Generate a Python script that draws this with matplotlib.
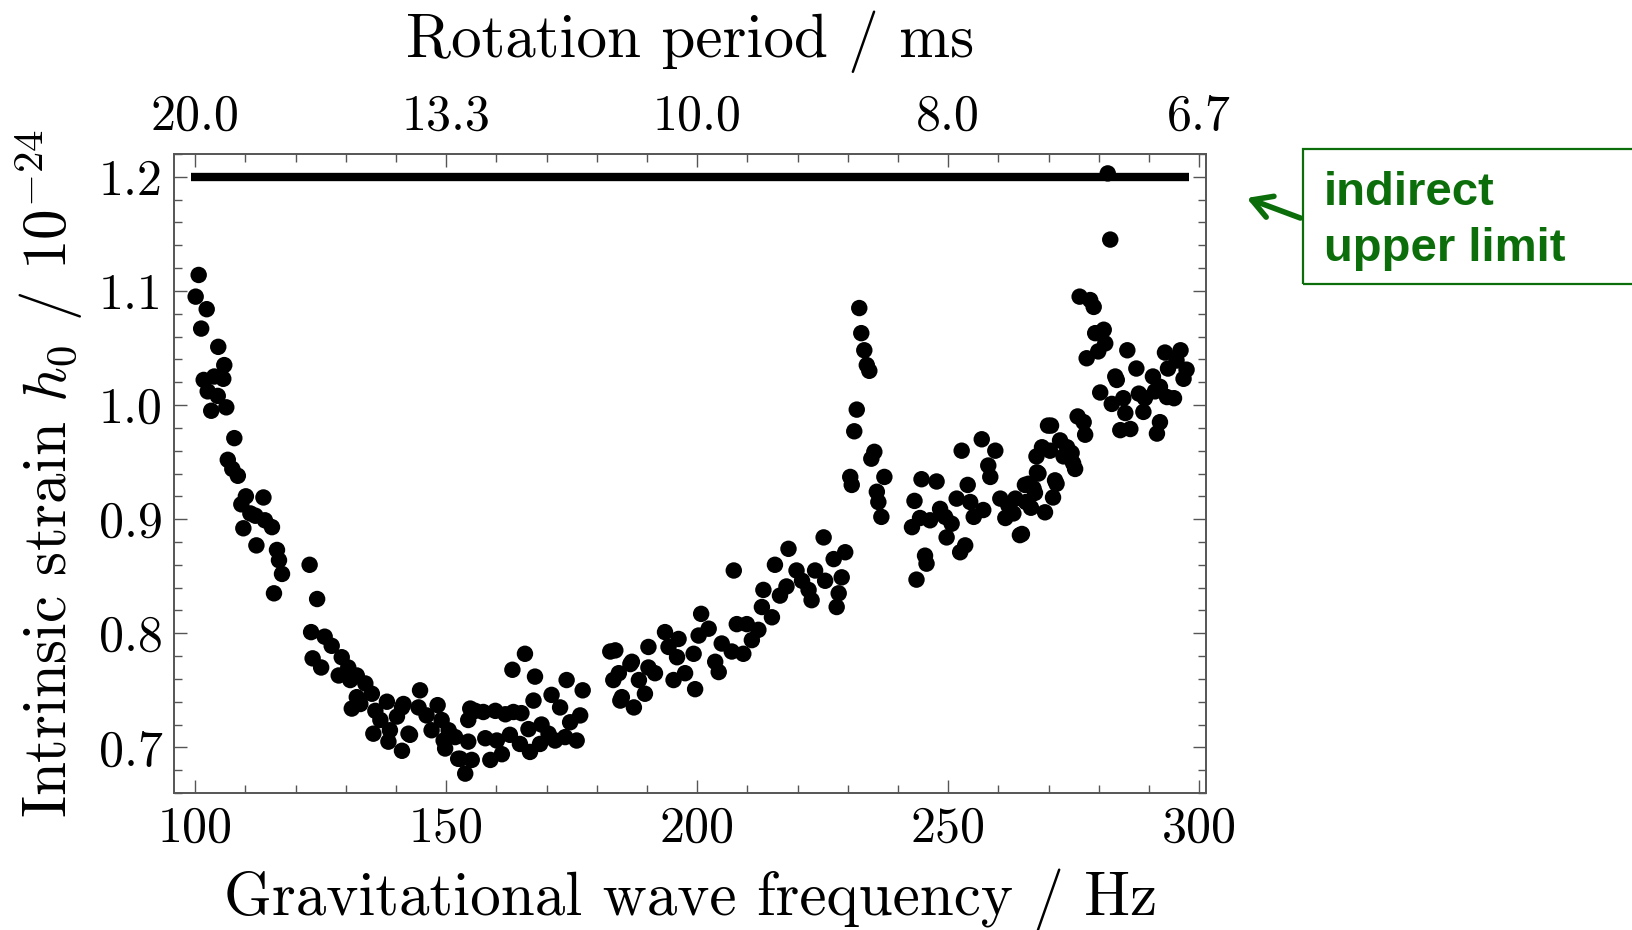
import matplotlib
matplotlib.use("Agg")
import matplotlib.pyplot as plt
from matplotlib.patches import Rectangle, FancyArrowPatch
from matplotlib.ticker import MultipleLocator

plt.rcParams['font.family'] = 'cmr10'
plt.rcParams['mathtext.fontset'] = 'cm'
plt.rcParams['axes.unicode_minus'] = False

# upper limit values per frequency bin
freq = [100.1, 100.7, 101.2, 101.7, 102.3, 102.5, 103.2, 103.8, 104.5, 104.6,
        105.6, 105.8, 106.2, 106.5, 107.4, 107.8, 108.5, 109.2, 109.6, 110.1,
        111.0, 112.0, 112.2, 113.6, 113.9, 115.3, 115.7, 116.3, 116.7, 117.3,
        122.8, 123.1, 123.4, 124.3, 125.1, 125.8, 127.2, 128.6, 129.2, 130.5,
        130.9, 131.2, 132.2, 132.2, 132.9, 133.9, 135.2, 135.5, 135.9, 136.9,
        138.2, 138.5, 138.8, 140.2, 141.2, 141.2, 141.5, 142.5, 142.8, 144.5,
        144.8, 146.1, 147.1, 148.3, 149.1, 149.5, 149.8, 150.5, 151.8, 152.4,
        152.8, 153.8, 154.4, 154.4, 154.8, 155.1, 155.8, 157.4, 157.8, 158.8,
        159.8, 160.1, 161.1, 161.8, 162.7, 163.2, 163.4, 164.7, 165.0, 165.7,
        166.4, 166.7, 167.4, 167.7, 168.7, 169.0, 170.4, 171.0, 171.7, 172.7,
        173.7, 174.0, 174.7, 176.0, 176.7, 177.2,
        182.7, 183.3, 183.7, 184.4, 184.7, 185.0, 186.7, 187.0, 187.4, 188.4,
        189.6, 190.3, 190.3, 191.6, 193.6, 194.3, 195.3, 196.0, 196.3, 197.6,
        199.3, 199.6, 200.3, 200.8, 202.3, 203.6, 204.3, 204.9, 206.9, 207.3,
        207.9, 209.2, 209.9, 210.9, 212.2, 212.9, 213.2, 214.9, 215.5, 216.5,
        217.8, 218.2, 219.8, 220.9, 222.2, 222.8, 223.5, 225.2, 225.5, 227.2,
        227.8, 228.2, 228.8, 229.5, 230.5, 230.8, 231.3, 231.8, 232.3, 232.7,
        233.3, 233.8, 234.3, 234.7, 235.3, 235.8, 236.1, 236.7, 237.3,
        242.8, 243.3, 243.7, 244.4, 244.7, 245.4, 245.7, 246.4, 247.7, 248.4,
        249.4, 249.7, 250.7, 251.7, 252.4, 252.7, 253.4, 253.9, 254.4, 255.1,
        256.7, 257.0, 258.0, 258.4, 259.4, 260.4, 261.4, 262.0, 263.0, 263.4,
        264.3, 264.7, 265.3, 265.5, 266.0, 266.5, 267.0, 267.3, 267.6, 267.7,
        268.0, 268.7, 269.3, 269.9, 270.3, 270.5, 270.9, 271.3, 271.6, 272.3,
        273.0, 273.7, 274.6, 274.9, 275.3, 275.8, 276.2, 277.0, 277.3, 277.6,
        278.3, 279.0, 279.3, 279.9, 280.3, 281.0, 281.3, 281.8, 282.3, 282.6,
        283.3, 283.6, 284.3, 284.9, 285.3, 285.7, 286.3, 287.5, 288.0, 288.9,
        289.2, 290.8, 291.2, 291.6, 292.2, 292.2, 293.2, 293.6, 293.8, 295.0,
        295.5, 296.3, 296.9, 297.5]
h0 = [1.095, 1.114, 1.067, 1.022, 1.084, 1.012, 0.995, 1.025, 1.008, 1.051,
      1.023, 1.035, 0.998, 0.952, 0.944, 0.971, 0.938, 0.913, 0.892, 0.920,
      0.905, 0.903, 0.877, 0.919, 0.899, 0.893, 0.835, 0.873, 0.864, 0.852,
      0.860, 0.801, 0.778, 0.830, 0.770, 0.797, 0.789, 0.763, 0.779, 0.770,
      0.759, 0.734, 0.763, 0.744, 0.738, 0.756, 0.747, 0.712, 0.732, 0.724,
      0.740, 0.705, 0.715, 0.727, 0.735, 0.697, 0.738, 0.712, 0.711, 0.735,
      0.750, 0.728, 0.715, 0.737, 0.724, 0.706, 0.699, 0.715, 0.709, 0.690,
      0.690, 0.677, 0.705, 0.724, 0.734, 0.689, 0.732, 0.731, 0.708, 0.689,
      0.732, 0.706, 0.694, 0.729, 0.711, 0.768, 0.731, 0.703, 0.730, 0.782,
      0.716, 0.696, 0.741, 0.762, 0.703, 0.720, 0.712, 0.746, 0.706, 0.735,
      0.709, 0.759, 0.722, 0.706, 0.728, 0.750,
      0.784, 0.759, 0.785, 0.765, 0.741, 0.744, 0.773, 0.775, 0.735, 0.759,
      0.747, 0.788, 0.770, 0.765, 0.801, 0.788, 0.759, 0.779, 0.795, 0.765,
      0.782, 0.751, 0.798, 0.817, 0.804, 0.775, 0.766, 0.791, 0.784, 0.855,
      0.808, 0.782, 0.808, 0.794, 0.803, 0.823, 0.838, 0.814, 0.860, 0.833,
      0.841, 0.874, 0.855, 0.846, 0.838, 0.829, 0.855, 0.884, 0.846, 0.865,
      0.823, 0.835, 0.849, 0.871, 0.937, 0.930, 0.977, 0.996, 1.085, 1.063,
      1.048, 1.035, 1.030, 0.953, 0.959, 0.924, 0.915, 0.902, 0.937,
      0.893, 0.916, 0.847, 0.901, 0.935, 0.868, 0.861, 0.899, 0.933, 0.909,
      0.902, 0.884, 0.896, 0.918, 0.871, 0.960, 0.877, 0.930, 0.915, 0.902,
      0.970, 0.908, 0.947, 0.937, 0.960, 0.918, 0.901, 0.912, 0.905, 0.918,
      0.886, 0.887, 0.930, 0.915, 0.931, 0.910, 0.927, 0.923, 0.955, 0.941,
      0.940, 0.963, 0.906, 0.982, 0.960, 0.982, 0.919, 0.934, 0.931, 0.969,
      0.955, 0.963, 0.958, 0.949, 0.944, 0.990, 1.095, 0.985, 0.974, 1.041,
      1.092, 1.086, 1.063, 1.047, 1.011, 1.066, 1.054, 1.203, 1.145, 1.001,
      1.025, 1.022, 0.978, 1.006, 0.993, 1.048, 0.979, 1.032, 1.010, 0.994,
      1.006, 1.025, 1.012, 0.975, 1.016, 0.985, 1.046, 1.007, 1.032, 1.006,
      1.039, 1.048, 1.023, 1.031]

# indirect (spin-down) upper limit
limit_h0 = 1.2
limit_f = [99.2, 298.0]

xticks = [100, 150, 200, 250, 300]
yticks = [0.7, 0.8, 0.9, 1.0, 1.1, 1.2]
ytick_labels = ['0.7', '0.8', '0.9', '1.0', '1.1', '1.2']
period_labels = ['20.0', '13.3', '10.0', '8.0', '6.7']

frame_col = '#555555'
green = '#0b6e0b'

fig = plt.figure(figsize=(16.33, 9.30), dpi=100)
ax = fig.add_axes([0.1066, 0.1473, 0.632, 0.6871])

ax.hlines(limit_h0, limit_f[0], limit_f[1], color='black', lw=6, zorder=2)
ax.scatter(freq, h0, s=140, color='black', edgecolors='none', zorder=3)

ax.set_xlim(95.8, 301.4)
ax.set_ylim(0.66, 1.22)
ax.set_xticks(xticks)
ax.set_xticklabels([str(t) for t in xticks])
ax.set_yticks(yticks)
ax.set_yticklabels(ytick_labels)
ax.xaxis.set_minor_locator(MultipleLocator(10))
ax.yaxis.set_minor_locator(MultipleLocator(0.02))
ax.tick_params(which='both', direction='in', color=frame_col, width=1.0,
               top=False, right=True, labelsize=36)
ax.tick_params(which='major', length=9.5)
ax.tick_params(which='minor', length=5.5)
ax.tick_params(axis='x', pad=9.5)
ax.tick_params(axis='y', pad=8)
for s in ax.spines.values():
    s.set_color(frame_col)
    s.set_linewidth(1.2)

ax.set_xlabel('Gravitational wave frequency / Hz', fontsize=44, labelpad=12)
ax.set_ylabel(r'Intrinsic strain $h_0$ / $10^{-24}$', fontsize=44, labelpad=10)

# top axis: rotation period
ax2 = ax.twiny()
ax2.set_xlim(ax.get_xlim())
ax2.set_xticks(xticks)
ax2.set_xticklabels(period_labels)
ax2.xaxis.set_minor_locator(MultipleLocator(10))
ax2.tick_params(which='both', direction='in', color=frame_col, width=1.0,
                labelsize=36, pad=10)
ax2.tick_params(which='major', length=9.5)
ax2.tick_params(which='minor', length=5.5)
for s in ax2.spines.values():
    s.set_color(frame_col)
    s.set_linewidth(1.2)
ax2.set_xlabel('Rotation period / ms', fontsize=44, labelpad=27)

# annotation box
fig.add_artist(Rectangle((1303 / 1633, 1 - 284 / 930), 0.3, 135 / 930,
                         transform=fig.transFigure, fill=False,
                         edgecolor=green, lw=1.6, clip_on=False))
fig.text(1324 / 1633, 1 - 221 / 930, 'indirect\nupper limit',
         family='Liberation Sans', weight='bold', fontsize=34,
         color=green, va='center', ha='left', linespacing=1.38)
fig.add_artist(FancyArrowPatch((1303 / 1633, 1 - 219 / 930),
                               (1244 / 1633, 1 - 197 / 930),
                               transform=fig.transFigure,
                               arrowstyle='->,head_length=14,head_width=8',
                               color=green, lw=4, mutation_scale=1))

fig.savefig('out.png', dpi=100)
